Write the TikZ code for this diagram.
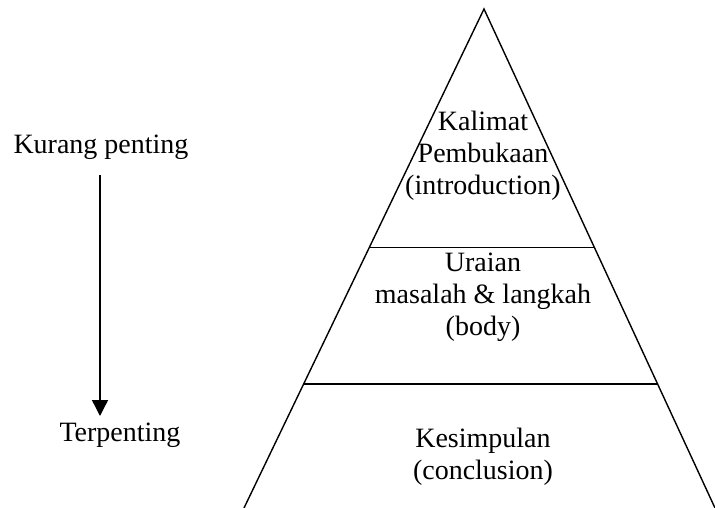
\documentclass[tikz,border=0pt]{standalone}
\usepackage{fontspec}
\setmainfont{Liberation Serif}
\usetikzlibrary{arrows.meta,calc}
\begin{document}
\begin{tikzpicture}[x=1pt,y=-1pt,
  lbl/.style={align=center,inner sep=0pt,font=\fontsize{28}{32}\selectfont},
  tri/.style={line width=1.4pt},
  sep/.style={line width=1.6pt}]
\useasboundingbox (0,0) rectangle (715,508);
\coordinate (apex) at (484,9);
\coordinate (bl) at (244,508);
\coordinate (br) at (715,508);
\draw[tri] (bl) -- (apex) -- (br);
\draw[sep] ($(apex)!0.478!(bl)$) -- ($(apex)!0.478!(br)$);
\draw[sep] ($(apex)!0.751!(bl)$) -- ($(apex)!0.751!(br)$);
\node[lbl] (intro) at (483,156) {Kalimat\\Pembukaan\\(introduction)};
\node[lbl] (body) at (483,297) {Uraian\\masalah \& langkah\\(body)};
\node[lbl] (concl) at (483,457) {Kesimpulan\\(conclusion)};
\node[lbl] (kp) at (101,147) {Kurang penting};
\node[lbl] (tp) at (120,435) {Terpenting};
\coordinate (a1) at (100,175);
\coordinate (a2) at (100,416);
\draw[line width=1.4pt,-{Triangle[length=16pt,width=16pt]}] (a1) -- (a2);
\end{tikzpicture}
\end{document}
